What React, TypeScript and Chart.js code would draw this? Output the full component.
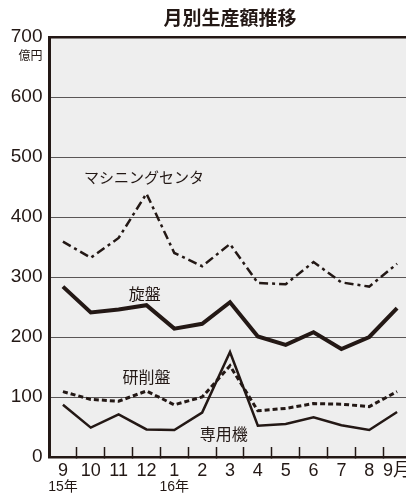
import React, { useEffect, useRef } from 'react';
import { Chart, registerables } from 'chart.js';

Chart.register(...registerables);

// ---- data ----
const monthLabels = ['9', '10', '11', '12', '1', '2', '3', '4', '5', '6', '7', '8', '9月'];
const yearLabels = ['15年', '', '', '', '16年', '', '', '', '', '', '', '', ''];
const seriesNames = ['マシニングセンタ', '旋盤', '研削盤', '専用機'];
const machiningCenters = [359, 332, 365, 439, 340, 318, 355, 290, 288, 325, 291, 284, 322];
const lathes = [284, 241, 246, 253, 214, 222, 258, 201, 187, 208, 180, 200, 248];
const grinders = [109, 96, 93, 110, 87, 100, 152, 77, 81, 89, 88, 84, 109];
const specialMachines = [87, 49, 71, 46, 45, 74, 175, 52, 55, 66, 53, 45, 75];
const yTickValues = [0, 100, 200, 300, 400, 500, 600, 700];
const unitLabel = '億円';
const unitValue = 670;

const INK = '#231815';
const GRID = '#5a5656';
const NUM_FONT = "'Liberation Sans', 'Noto Sans CJK JP', sans-serif";
const JP_FONT = "'Noto Sans CJK JP', sans-serif";

const toPoints = (arr: number[]) => arr.map((v, i) => ({ x: i, y: v }));

const plotBg = {
  id: 'plotBg',
  beforeDraw(chart: any) {
    const { ctx, chartArea } = chart;
    if (!chartArea) return;
    ctx.save();
    ctx.fillStyle = '#eeeeee';
    ctx.fillRect(chartArea.left, chartArea.top, chartArea.right - chartArea.left, chartArea.bottom - chartArea.top);
    ctx.restore();
  },
};

const seriesLabels = {
  id: 'seriesLabels',
  afterDatasetsDraw(chart: any, _args: any, opts: any) {
    const { ctx } = chart;
    const xs = chart.scales.x;
    const ys = chart.scales.y;
    ctx.save();
    ctx.textAlign = 'center';
    ctx.textBaseline = 'middle';
    ctx.fillStyle = INK;
    for (const it of opts.items || []) {
      ctx.font = `${it.size}px ${JP_FONT}`;
      ctx.fillText(seriesNames[it.series], xs.getPixelForValue(it.x), ys.getPixelForValue(it.y));
    }
    ctx.restore();
  },
};

export default function App() {
  const canvasRef = useRef<HTMLCanvasElement | null>(null);

  useEffect(() => {
    const canvas = canvasRef.current;
    if (!canvas) return;
    const n = monthLabels.length;
    const xTicks: number[] = [];
    for (let i = 0; i < n; i++) {
      xTicks.push(i);
      if (i < n - 1) xTicks.push(i + 0.5);
    }
    const isHalf = (v: number) => Math.abs(v - Math.round(v)) > 0.01;

    const chart = new Chart(canvas, {
      type: 'line',
      data: {
        datasets: [
          {
            label: seriesNames[0],
            data: toPoints(machiningCenters),
            borderColor: INK,
            borderWidth: 2.5,
            borderDash: [9, 4, 3, 4],
            pointRadius: 0,
            tension: 0,
            xAxisID: 'x',
          },
          {
            label: seriesNames[1],
            data: toPoints(lathes),
            borderColor: INK,
            borderWidth: 4,
            pointRadius: 0,
            tension: 0,
            xAxisID: 'x',
          },
          {
            label: seriesNames[2],
            data: toPoints(grinders),
            borderColor: INK,
            borderWidth: 3,
            borderDash: [5, 3],
            pointRadius: 0,
            tension: 0,
            xAxisID: 'x',
          },
          {
            label: seriesNames[3],
            data: toPoints(specialMachines),
            borderColor: INK,
            borderWidth: 2.5,
            pointRadius: 0,
            tension: 0,
            xAxisID: 'x',
          },
        ],
      },
      options: {
        responsive: false,
        animation: false,
        devicePixelRatio: 1,
        layout: { padding: { left: 4.3, right: 1, top: 0, bottom: 2 } },
        plugins: {
          legend: { display: false },
          tooltip: { enabled: false },
          title: {
            display: true,
            text: '月別生産額推移',
            fullSize: false,
            color: INK,
            font: { family: JP_FONT, size: 19, weight: 'bold', lineHeight: 1.2 },
            padding: { top: 6.6, bottom: 7.6 },
          },
          seriesLabels: {
            items: [
              { series: 0, x: 2.91, y: 466, size: 15 },
              { series: 1, x: 2.94, y: 271, size: 16 },
              { series: 2, x: 3.0, y: 134, size: 16 },
              { series: 3, x: 5.78, y: 38, size: 16 },
            ],
          },
        } as any,
        scales: {
          x: {
            type: 'linear',
            position: 'bottom',
            min: -0.5,
            max: n - 0.5,
            afterBuildTicks: (s: any) => {
              s.ticks = xTicks.map((v) => ({ value: v }));
            },
            ticks: {
              autoSkip: false,
              maxRotation: 0,
              minRotation: 0,
              padding: 0,
              color: INK,
              font: { family: NUM_FONT, size: 18, lineHeight: '48px' },
              callback: (v: any) => (isHalf(Number(v)) ? '' : monthLabels[Math.round(Number(v))]),
            },
            grid: {
              drawOnChartArea: false,
              drawTicks: true,
              tickLength: -10,
              tickWidth: 1.5,
              color: (ctx: any) => (ctx.tick && isHalf(ctx.tick.value) ? INK : 'rgba(0,0,0,0)'),
              tickColor: (ctx: any) => (ctx.tick && isHalf(ctx.tick.value) ? INK : 'rgba(0,0,0,0)'),
            },
            border: { display: true, color: INK, width: 2.5 },
          },
          x2: {
            type: 'linear',
            position: 'bottom',
            min: -0.5,
            max: n - 0.5,
            afterBuildTicks: (s: any) => {
              s.ticks = yearLabels
                .map((l, i) => ({ l, i }))
                .filter((o) => o.l !== '')
                .map((o) => ({ value: o.i }));
            },
            ticks: {
              autoSkip: false,
              maxRotation: 0,
              minRotation: 0,
              padding: -18,
              color: INK,
              font: { family: NUM_FONT, size: 14, lineHeight: '20px' },
              callback: (v: any) => yearLabels[Math.round(Number(v))],
            },
            grid: { display: false, drawTicks: false },
            border: { display: false },
          },
          y: {
            type: 'linear',
            min: 0,
            max: 700,
            afterBuildTicks: (s: any) => {
              s.ticks = [...yTickValues, unitValue].sort((a, b) => a - b).map((v) => ({ value: v }));
            },
            ticks: {
              autoSkip: false,
              padding: 6.5,
              color: INK,
              font: (ctx: any) =>
                ctx.tick && ctx.tick.value === unitValue
                  ? { family: JP_FONT, size: 12, lineHeight: 1.2 }
                  : { family: NUM_FONT, size: 19, lineHeight: 1.2 },
              callback: (v: any) => (Number(v) === unitValue ? unitLabel : String(v)),
            },
            grid: {
              drawTicks: false,
              color: (ctx: any) => {
                if (!ctx.tick) return GRID;
                const v = ctx.tick.value;
                if (v === unitValue || v === 0) return 'rgba(0,0,0,0)';
                if (v === 700) return INK;
                return GRID;
              },
              lineWidth: (ctx: any) => (ctx.tick && ctx.tick.value === 700 ? 2.5 : 1),
            },
            border: { display: true, color: INK, width: 3 },
          },
        },
      } as any,
      plugins: [plotBg, seriesLabels],
    });
    return () => chart.destroy();
  }, []);

  return (
    <div
      style={{
        position: 'absolute',
        left: 0,
        top: 0,
        width: 406,
        height: 497,
        overflow: 'hidden',
        background: '#ffffff',
      }}
    >
      <canvas ref={canvasRef} width={412} height={497} style={{ display: 'block' }} />
    </div>
  );
}
